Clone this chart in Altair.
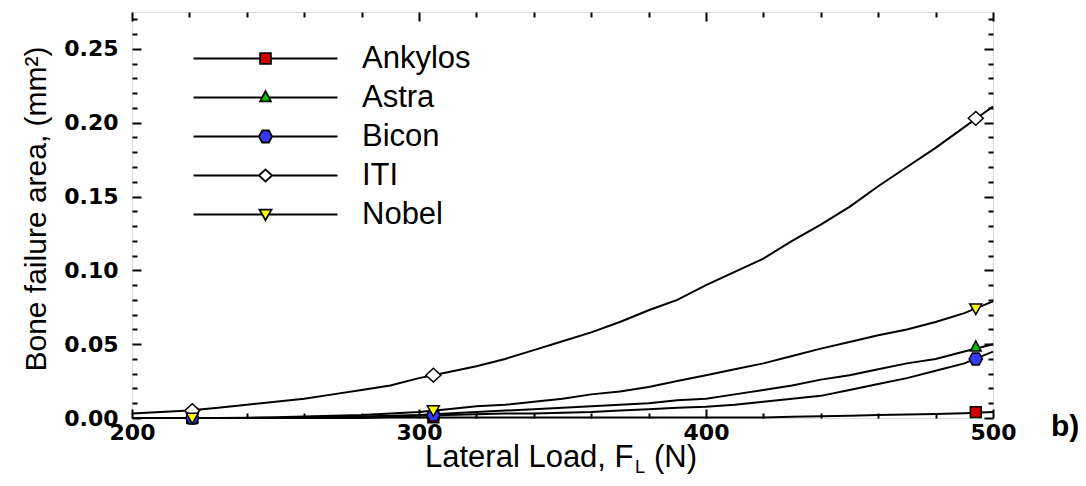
import altair as alt
import pandas as pd

# ---- data ----
load = [200, 210, 220, 230, 240, 250, 260, 270, 280, 290, 300, 310, 320, 330, 340, 350,
        360, 370, 380, 390, 400, 410, 420, 430, 440, 450, 460, 470, 480, 490, 500]
ankylos = [0, 0, 0, 0, 0, 0, 0, 0, 0, 0.0003, 0.0003, 0.0003, 0.0003, 0.0003, 0.0003, 0.0003,
           0.0003, 0.0003, 0.0003, 0.0003, 0.0003, 0.0003, 0.0004, 0.0008, 0.0012, 0.0016,
           0.002, 0.0023, 0.0027, 0.0033, 0.004]
astra = [0, 0, 0, 0, 0, 0, 0.0003, 0.0007, 0.001, 0.0015, 0.002, 0.003, 0.004, 0.005, 0.006,
         0.007, 0.008, 0.009, 0.010, 0.012, 0.013, 0.016, 0.019, 0.022, 0.026, 0.029, 0.033,
         0.037, 0.040, 0.045, 0.050]
bicon = [0, 0, 0, 0, 0, 0, 0, 0.0003, 0.0007, 0.001, 0.0015, 0.002, 0.0025, 0.003, 0.003,
         0.0035, 0.004, 0.005, 0.006, 0.007, 0.0076, 0.009, 0.011, 0.013, 0.015, 0.019, 0.023,
         0.027, 0.032, 0.037, 0.045]
iti = [0.003, 0.004, 0.005, 0.007, 0.009, 0.011, 0.013, 0.016, 0.019, 0.022, 0.027, 0.031,
       0.035, 0.040, 0.046, 0.052, 0.058, 0.065, 0.073, 0.080, 0.090, 0.099, 0.108, 0.120,
       0.131, 0.143, 0.157, 0.170, 0.183, 0.197, 0.211]
nobel = [0, 0, 0, 0, 0.0002, 0.0005, 0.001, 0.0015, 0.002, 0.003, 0.004, 0.006, 0.008, 0.009,
         0.011, 0.013, 0.016, 0.018, 0.021, 0.025, 0.029, 0.033, 0.037, 0.042, 0.047, 0.0515,
         0.056, 0.060, 0.065, 0.071, 0.079]

marker_load = [221, 305, 494]
ankylos_m = [0.0, 0.0005, 0.004]
astra_m = [0.0, 0.002, 0.048]
bicon_m = [0.0, 0.002, 0.040]
iti_m = [0.005, 0.029, 0.203]
nobel_m = [0.0, 0.005, 0.074]

series = ["Ankylos", "Astra", "Bicon", "ITI", "Nobel"]
fills = ["#d40000", "#00c400", "#3838ff", "#ffffff", "#ffff00"]
outline = ["black", "black", "black", "black", "black"]

x_major = [200, 300, 400, 500]
x_minor = [220, 240, 260, 280, 320, 340, 360, 380, 420, 440, 460, 480]
y_major = [0.0, 0.05, 0.10, 0.15, 0.20, 0.25]
y_minor = [0.01, 0.02, 0.03, 0.04, 0.06, 0.07, 0.08, 0.09, 0.11, 0.12, 0.13, 0.14,
           0.16, 0.17, 0.18, 0.19, 0.21, 0.22, 0.23, 0.24, 0.26, 0.27]

x_title = ["Lateral Load, F", "L", "(N)"]
y_title = "Bone failure area, (mm²)"
panel_tag = "b)"

# ---- marker shapes ----
marker_paths = [
    "M-0.9,-0.9H0.9V0.9H-0.9Z",
    "M-0.9,0.65L0,-1.05L0.9,0.65Z",
    "M-1.1,0L-0.55,-1L0.55,-1L1.1,0L0.55,1L-0.55,1Z",
    "M-1.25,0L0,-1.15L1.25,0L0,1.15Z",
    "M-1,-0.8L1,-0.8L0,0.95Z",
]
legend_paths = [
    "M-12,0H-0.9M0.9,0H12M-0.9,-0.9H0.9V0.9H-0.9Z",
    "M-12,0H-0.5M0.5,0H12M-0.9,0.65L0,-1.05L0.9,0.65Z",
    "M-12,0H-1.1M1.1,0H12M-1.1,0L-0.55,-1L0.55,-1L1.1,0L0.55,1L-0.55,1Z",
    "M-12,0H-1.1M1.1,0H12M-1.1,0L0,-1L1.1,0L0,1Z",
    "M-12,0H-0.6M0.6,0H12M-1,-0.8L1,-0.8L0,0.95Z",
]

# ---- tables ----
curves = {"Ankylos": ankylos, "Astra": astra, "Bicon": bicon, "ITI": iti, "Nobel": nobel}
marks = {"Ankylos": ankylos_m, "Astra": astra_m, "Bicon": bicon_m, "ITI": iti_m, "Nobel": nobel_m}
line_df = pd.DataFrame([
    {"series": s, "load": xv, "area": yv}
    for s in series for xv, yv in zip(load, curves[s])
])
mark_df = pd.DataFrame([
    {"series": s, "load": xv, "area": yv}
    for s in series for xv, yv in zip(marker_load, marks[s])
])

W, H = 861, 406
xscale = alt.Scale(domain=[200, 500], nice=False, zero=False)
yscale = alt.Scale(domain=[0, 0.275], nice=False, zero=False)
TICKFONT = dict(labelFont="DejaVu Sans", labelFontWeight="bold", labelFontSize=22,
                labelColor="black", labelOverlap=False, labelFlush=False)


def ax(orient, values, size, labels=False, **kw):
    return alt.Axis(orient=orient, values=values, tickSize=size, offset=-size,
                    labels=labels, domain=False, grid=False, title=None,
                    ticks=True, tickColor="black", tickWidth=2, **kw)


lines = alt.Chart(line_df).mark_line(color="black", strokeWidth=2).encode(
    x=alt.X("load:Q", scale=xscale,
            axis=ax("bottom", x_major, 9, True, labelPadding=4, format="d", **TICKFONT)),
    y=alt.Y("area:Q", scale=yscale,
            axis=ax("left", y_major, 9, True, labelPadding=14, format=".2f", **TICKFONT)),
    detail="series:N",
)

points = alt.Chart(mark_df).mark_point(filled=True, size=144, stroke="black",
                                       strokeWidth=1.5, opacity=1).encode(
    x=alt.X("load:Q", scale=xscale, axis=ax("top", x_major, 9)),
    y=alt.Y("area:Q", scale=yscale, axis=ax("right", y_major, 9)),
    shape=alt.Shape("series:N", scale=alt.Scale(domain=series, range=marker_paths), legend=None),
    fill=alt.Fill("series:N", scale=alt.Scale(domain=series, range=fills), legend=None),
)

leg = alt.Legend(orient="none", legendX=53, legendY=31, title=None, symbolSize=144,
                 symbolStrokeWidth=1.8, symbolStrokeColor="black", symbolOffset=65,
                 labelOffset=81, labelFont="Liberation Sans", labelFontSize=31,
                 labelColor="black", rowPadding=7, padding=0, symbolOpacity=1)

legend_layer = alt.Chart(mark_df).mark_point(filled=True, size=144, opacity=0).encode(
    x=alt.X("load:Q", scale=xscale, axis=ax("bottom", x_minor, 5)),
    y=alt.Y("area:Q", scale=yscale, axis=ax("left", y_minor, 5)),
    shape=alt.Shape("series:N", scale=alt.Scale(domain=series, range=legend_paths), legend=leg),
    fill=alt.Fill("series:N", scale=alt.Scale(domain=series, range=fills), legend=leg),
    stroke=alt.Stroke("series:N", scale=alt.Scale(domain=series, range=outline), legend=leg),
)

minor2 = alt.Chart(mark_df).mark_point(opacity=0).encode(
    x=alt.X("load:Q", scale=xscale, axis=ax("top", x_minor, 5)),
    y=alt.Y("area:Q", scale=yscale, axis=ax("right", y_minor, 5)),
)


def txt(text, x, y, size, angle=0, weight="normal", align="left",
        font="Liberation Sans"):
    return alt.Chart(pd.DataFrame({"t": [text]})).mark_text(
        align=align, baseline="alphabetic", fontSize=size, font=font,
        fontWeight=weight, angle=angle, color="black",
    ).encode(text="t:N", x=alt.value(x), y=alt.value(y))


t1 = txt(x_title[0], 293, 455, 31)
t2 = txt(x_title[1], 503, 461, 18)
t3 = txt(x_title[2], 522, 455, 31)
ty = txt(y_title, -86, 197, 30, angle=270, align="center")
tb = txt(panel_tag, 919, 424, 30, weight="bold")

chart = alt.layer(lines, points, legend_layer, minor2, t1, t2, t3, ty, tb).resolve_scale(
    shape="independent", fill="independent", stroke="independent"
).resolve_axis(x="independent", y="independent").properties(
    width=W, height=H,
    autosize=alt.AutoSizeParams(type="none"),
    padding={"left": 124, "top": 4, "right": 85, "bottom": 60},
).configure_view(stroke="black", strokeWidth=4).configure(background="white")

chart.save("out.html", embed_options={"renderer": "svg", "actions": False})
